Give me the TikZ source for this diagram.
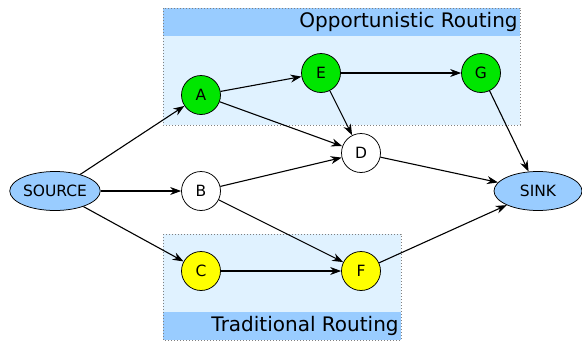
\documentclass[tikz,border=0pt]{standalone}
\usepackage{fontspec}
\setmainfont{DejaVu Sans}
\usetikzlibrary{arrows.meta,shapes.geometric}

\definecolor{hdrblue}{RGB}{153,204,255}
\definecolor{boxblue}{RGB}{224,242,255}
\definecolor{nodegreen}{RGB}{0,230,0}
\definecolor{nodeyellow}{RGB}{255,255,0}

\tikzset{every picture/.style={line width=0.75pt}}
\tikzset{
  hop/.style={circle,draw,minimum size=39pt,inner sep=0pt,font=\fontsize{15.5}{18}\selectfont},
  endpoint/.style={ellipse,draw,fill=hdrblue,minimum width=88pt,minimum height=39pt,inner sep=0pt,font=\fontsize{15.5}{18}\selectfont},
  link/.style={-{Stealth[length=11pt,width=8pt]},line width=1.1pt},
  region/.style={draw=gray,dotted,fill=boxblue},
  banner/.style={fill=hdrblue},
  bannertext/.style={font=\fontsize{20}{24}\selectfont,inner sep=0pt}
}

\begin{document}
\begin{tikzpicture}[x=1pt,y=1pt,yscale=-1]
\useasboundingbox (0,0) rectangle (582,343);

%Shape: Opportunistic region
\fill[banner] (163,8) rectangle (520,36);
\fill[boxblue] (163,36) rectangle (520,125);
\draw[draw=gray,dotted,line width=1pt] (163,8) rectangle (520,125);
% Text Node
\node[bannertext,anchor=east] (oplabel) at (518,22) {Opportunistic Routing};

%Shape: Traditional region
\fill[boxblue] (163,234) rectangle (401,312);
\fill[banner] (163,312) rectangle (401,340);
\draw[draw=gray,dotted,line width=1pt] (163,234) rectangle (401,340);
% Text Node
\node[bannertext,anchor=east] (trlabel) at (399,326) {Traditional Routing};

% Nodes
\node[endpoint] (source) at (55,191) {SOURCE};
\node[endpoint] (sink) at (538,191) {SINK};
\node[hop,fill=nodegreen] (a) at (201,95) {A};
\node[hop,fill=nodegreen] (e) at (321,73) {E};
\node[hop,fill=nodegreen] (g) at (481,73) {G};
\node[hop,fill=white] (d) at (361,153) {D};
\node[hop,fill=white] (b) at (201,191) {B};
\node[hop,fill=nodeyellow] (c) at (201,271) {C};
\node[hop,fill=nodeyellow] (f) at (361,271) {F};

% Links
\draw[link] (source) -- (a);
\draw[link] (source) -- (b);
\draw[link] (source) -- (c);
\draw[link] (a) -- (e);
\draw[link] (a) -- (d);
\draw[link] (e) -- (g);
\draw[link] (e) -- (d);
\draw[link] (g) -- (sink);
\draw[link] (d) -- (sink);
\draw[link] (b) -- (d);
\draw[link] (b) -- (f);
\draw[link] (c) -- (f);
\draw[link] (f) -- (sink);

\end{tikzpicture}
\end{document}
